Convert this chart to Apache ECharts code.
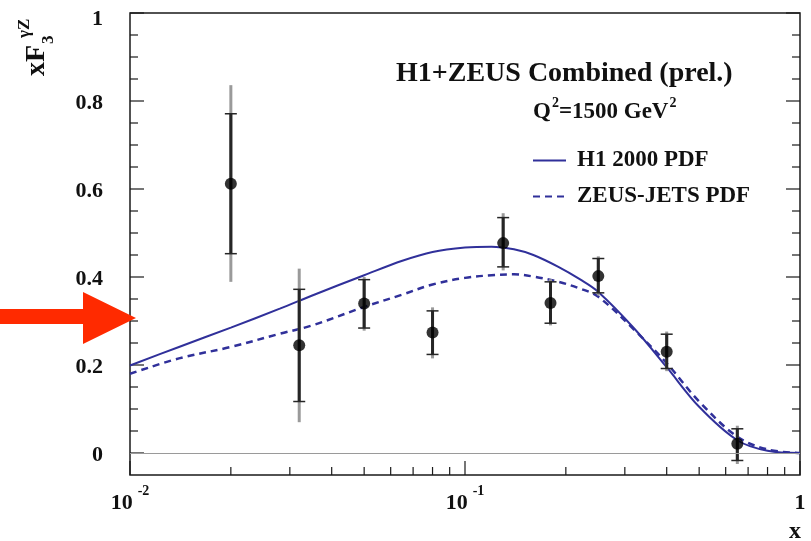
<!DOCTYPE html>
<html>
<head>
<meta charset="utf-8">
<script src="https://cdn.jsdelivr.net/npm/echarts@6/dist/echarts.min.js"></script>
<style>
  html, body { margin: 0; padding: 0; background: #fff; }
  #chart { width: 811px; height: 541px; }
</style>
</head>
<body>
<div id="chart"></div>
<script>
// Measured xF3 points (x, value) with statistical and total uncertainty ranges
const pointX   = [0.02, 0.032, 0.05, 0.08, 0.13, 0.18, 0.25, 0.40, 0.65];
const pointY   = [0.612, 0.245, 0.340, 0.274, 0.477, 0.341, 0.402, 0.230, 0.021];
const statLow  = [0.453, 0.117, 0.284, 0.224, 0.423, 0.295, 0.364, 0.192, -0.017];
const statHigh = [0.771, 0.372, 0.394, 0.323, 0.535, 0.389, 0.442, 0.270, 0.055];
const totLow   = [0.389, 0.070, 0.278, 0.215, 0.415, 0.290, 0.358, 0.186, -0.025];
const totHigh  = [0.836, 0.419, 0.400, 0.331, 0.545, 0.395, 0.447, 0.276, 0.062];

// PDF predictions sampled along x
const curveX = [0.01, 0.014, 0.02, 0.028, 0.035, 0.05, 0.065, 0.08, 0.1, 0.12, 0.14, 0.16, 0.19, 0.22, 0.25, 0.32, 0.4, 0.5, 0.65, 0.8, 1.0];
const h1Pdf   = [0.199, 0.241, 0.285, 0.328, 0.358, 0.404, 0.437, 0.457, 0.467, 0.469, 0.463, 0.450, 0.423, 0.395, 0.366, 0.283, 0.195, 0.105, 0.029, 0.005, 0.0];
const zeusPdf = [0.180, 0.215, 0.241, 0.271, 0.290, 0.332, 0.360, 0.383, 0.398, 0.404, 0.406, 0.401, 0.389, 0.374, 0.355, 0.280, 0.204, 0.117, 0.037, 0.008, 0.0];

// Axis ticks and labels
const xMajorTicks = [0.01, 0.1, 1];
const xTickBase   = ['10', '10', '1'];
const xTickExp    = ['-2', '-1', ''];
const xMinorTicks = [0.02, 0.03, 0.04, 0.05, 0.06, 0.07, 0.08, 0.09, 0.2, 0.3, 0.4, 0.5, 0.6, 0.7, 0.8, 0.9];
const yMajorTicks = [0, 0.2, 0.4, 0.6, 0.8, 1];
const yTickLabels = ['0', '0.2', '0.4', '0.6', '0.8', '1'];
const yMinorTicks = [0.05, 0.1, 0.15, 0.25, 0.3, 0.35, 0.45, 0.5, 0.55, 0.65, 0.7, 0.75, 0.85, 0.9, 0.95];

const X_MIN = 0.01, X_MAX = 1, Y_MIN = -0.05, Y_MAX = 1;
const SERIF = "'Liberation Serif', 'Times New Roman', serif";
const CURVE_COLOR = '#30309a';
const INK = '#111';

const chart = echarts.init(document.getElementById('chart'));

const pointData = pointX.map((x, i) => [x, pointY[i]]);
const barData = pointX.map((x, i) => [x, pointY[i], statLow[i], statHigh[i], totLow[i], totHigh[i]]);

// tick items: [x, y, orientation (0 = y-axis tick, 1 = x-axis tick), length]
const tickData = []
  .concat(yMajorTicks.map(v => [X_MIN, v, 0, 14]))
  .concat(yMinorTicks.map(v => [X_MIN, v, 0, 8]))
  .concat(xMajorTicks.map(v => [v, Y_MIN, 1, 14]))
  .concat(xMinorTicks.map(v => [v, Y_MIN, 1, 8]));

function findIndex(arr, v) {
  return arr.findIndex(t => Math.abs(t - v) <= 1e-6 * Math.max(1, Math.abs(t)));
}

// rich-text pieces: base and raised exponent share one token height
const boldText = (size, pad) => ({ fontFamily: SERIF, fontWeight: 'bold', fontSize: size, lineHeight: size, padding: pad, color: INK });

const option = {
  backgroundColor: '#ffffff',
  animation: false,
  grid: {
    left: 130, right: 11, top: 13, bottom: 66,
    outerBoundsMode: 'none',
    show: true, borderColor: '#1a1a1a', borderWidth: 1.5, backgroundColor: 'transparent'
  },
  title: [
    {
      text: 'H1+ZEUS Combined (prel.)',
      left: 396, top: 59, padding: 0,
      textStyle: { fontFamily: SERIF, fontWeight: 'bold', fontSize: 28, lineHeight: 30, color: INK }
    },
    {
      text: '{q|Q}{s|2}{q|=1500 GeV}{s|2}',
      left: 533, top: 97, padding: 0,
      textStyle: {
        rich: {
          q: boldText(23, [8, 0, 0, 0]),
          s: boldText(14, [3, 0, 14, 1])
        }
      }
    }
  ],
  legend: {
    data: ['H1 2000 PDF', 'ZEUS-JETS PDF'],
    orient: 'vertical',
    left: 532, top: 149, padding: 0,
    itemWidth: 33, itemHeight: 20, itemGap: 13,
    itemStyle: { opacity: 0, borderWidth: 0 },
    textStyle: { fontFamily: SERIF, fontWeight: 'bold', fontSize: 23, lineHeight: 22, color: INK, padding: [0, 0, 0, 6] }
  },
  xAxis: {
    type: 'log', logBase: 10, min: X_MIN, max: X_MAX,
    axisLine: { show: false }, axisTick: { show: false }, splitLine: { show: false },
    axisLabel: {
      margin: 13,
      formatter: function (v) {
        const i = findIndex(xMajorTicks, v);
        if (i < 0) return '';
        if (!xTickExp[i]) return '{one|' + xTickBase[i] + '}';
        return '{b|' + xTickBase[i] + '}{s|' + xTickExp[i] + '}';
      },
      rich: {
        b: boldText(22, [9, 0, 0, 0]),
        s: boldText(14, [1, 0, 16, 5]),
        one: boldText(22, [9, 0, 0, 0])
      }
    }
  },
  yAxis: {
    type: 'value', min: Y_MIN, max: Y_MAX, interval: 0.05,
    axisLine: { show: false }, axisTick: { show: false }, splitLine: { show: false },
    axisLabel: {
      margin: 27, showMaxLabel: true,
      formatter: function (v) {
        const i = findIndex(yMajorTicks, v);
        if (i < 0) return '';
        return (i === yMajorTicks.length - 1 ? '{top|' : '{n|') + yTickLabels[i] + '}';
      },
      rich: {
        n: boldText(22, [4, 0, 0, 0]),
        top: boldText(22, [12, 0, 0, 0])
      }
    }
  },
  series: [
    {
      name: 'ticks',
      type: 'custom',
      silent: true,
      clip: false,
      encode: { x: 0, y: 1 },
      data: tickData,
      renderItem: function (params, api) {
        const kind = api.value(2), len = api.value(3);
        const style = { stroke: '#1a1a1a', lineWidth: 1.2 };
        if (kind === 0) {
          const l = api.coord([X_MIN, api.value(1)]);
          const r = api.coord([X_MAX, api.value(1)]);
          return { type: 'group', children: [
            { type: 'line', shape: { x1: l[0], y1: l[1], x2: l[0] + len, y2: l[1] }, style: style },
            { type: 'line', shape: { x1: r[0], y1: r[1], x2: r[0] - len, y2: r[1] }, style: style }
          ] };
        }
        const b = api.coord([api.value(0), Y_MIN]);
        return { type: 'line', shape: { x1: b[0], y1: b[1], x2: b[0], y2: b[1] - len }, style: style };
      },
      z: 1
    },
    {
      name: 'H1 2000 PDF',
      type: 'line',
      data: curveX.map((x, i) => [x, h1Pdf[i]]),
      symbol: 'none', smooth: 0.35,
      lineStyle: { color: CURVE_COLOR, width: 2, type: 'solid' },
      itemStyle: { color: CURVE_COLOR },
      z: 3
    },
    {
      name: 'ZEUS-JETS PDF',
      type: 'line',
      data: curveX.map((x, i) => [x, zeusPdf[i]]),
      symbol: 'none', smooth: 0.35,
      lineStyle: { color: CURVE_COLOR, width: 2.5, type: [7, 5] },
      itemStyle: { color: CURVE_COLOR },
      z: 3
    },
    {
      name: 'uncertainties',
      type: 'custom',
      silent: true,
      encode: { x: 0, y: 1 },
      data: barData,
      renderItem: function (params, api) {
        const x = api.value(0);
        const sLo = api.coord([x, api.value(2)]);
        const sHi = api.coord([x, api.value(3)]);
        const tLo = api.coord([x, api.value(4)]);
        const tHi = api.coord([x, api.value(5)]);
        const capHalf = 6;
        return { type: 'group', children: [
          { type: 'line', shape: { x1: tLo[0], y1: tLo[1], x2: tHi[0], y2: tHi[1] }, style: { stroke: '#9a9a9a', lineWidth: 3 } },
          { type: 'line', shape: { x1: sLo[0], y1: sLo[1], x2: sHi[0], y2: sHi[1] }, style: { stroke: '#262626', lineWidth: 3 } },
          { type: 'line', shape: { x1: sLo[0] - capHalf, y1: sLo[1], x2: sLo[0] + capHalf, y2: sLo[1] }, style: { stroke: '#262626', lineWidth: 1.5 } },
          { type: 'line', shape: { x1: sHi[0] - capHalf, y1: sHi[1], x2: sHi[0] + capHalf, y2: sHi[1] }, style: { stroke: '#262626', lineWidth: 1.5 } }
        ] };
      },
      markLine: {
        silent: true, symbol: 'none', label: { show: false },
        lineStyle: { color: '#9a9a9a', width: 1, type: 'solid' },
        data: [{ yAxis: 0 }]
      },
      z: 4
    },
    {
      name: 'data',
      type: 'scatter',
      data: pointData,
      symbol: 'circle', symbolSize: 12,
      itemStyle: { color: '#000' },
      z: 5
    }
  ],
  graphic: [
    {
      // red pointer arrow at the left of the y axis
      type: 'polygon',
      shape: { points: [[0, 309], [83, 309], [83, 292], [136, 318], [83, 344], [83, 324], [0, 324]] },
      style: { fill: '#ff2a00' },
      z: 10
    },
    {
      // vertical axis title xF3^γZ
      type: 'group',
      x: 37, y: 76, rotation: Math.PI / 2,
      children: [
        { type: 'text', x: 0, y: 0, style: { text: 'xF', font: 'bold 28px ' + SERIF, fill: INK, align: 'left', verticalAlign: 'middle' } },
        { type: 'text', x: 32, y: 12, style: { text: '3', font: 'bold 17px ' + SERIF, fill: INK, align: 'left', verticalAlign: 'middle' } },
        { type: 'text', x: 38, y: -12, style: { text: 'γZ', font: 'bold 17px ' + SERIF, fill: INK, align: 'left', verticalAlign: 'middle' } }
      ]
    },
    {
      type: 'text',
      x: 795, y: 532,
      style: { text: 'x', font: 'bold 24px ' + SERIF, fill: INK, align: 'center', verticalAlign: 'middle' }
    }
  ]
};

chart.setOption(option);
</script>
</body>
</html>
